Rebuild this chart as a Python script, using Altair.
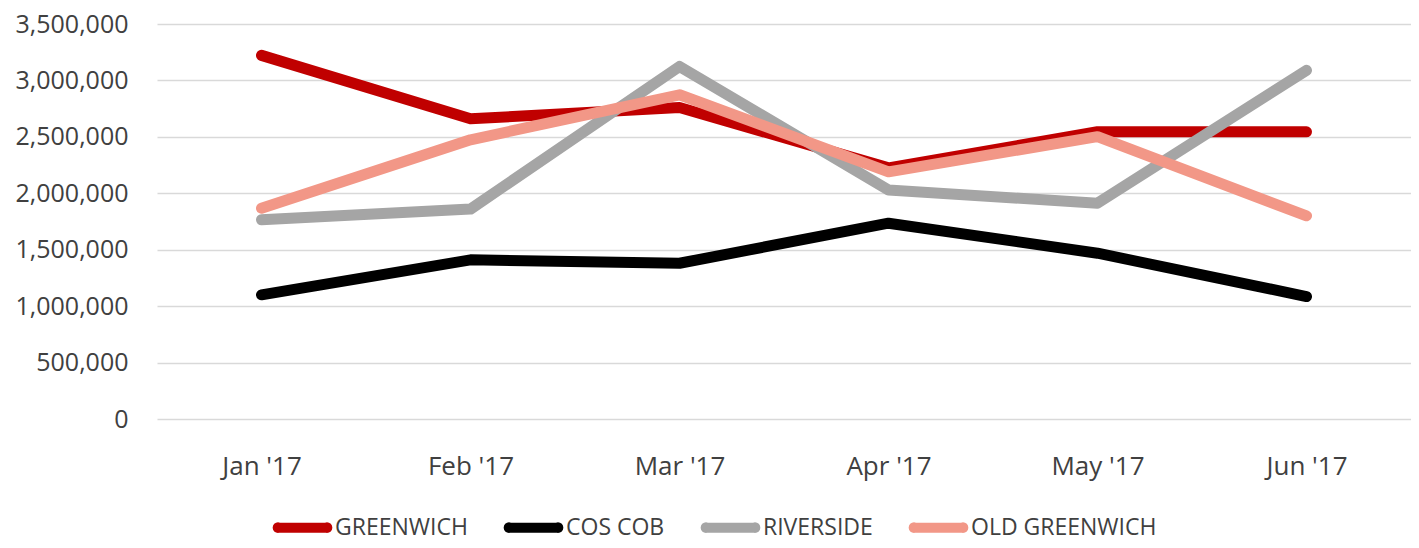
import math
import altair as alt
import pandas as pd

months = ["Jan '17", "Feb '17", "Mar '17", "Apr '17", "May '17", "Jun '17"]
series_names = ["GREENWICH", "COS COB", "RIVERSIDE", "OLD GREENWICH"]
greenwich = [3222000, 2660000, 2760000, 2225000, 2545000, 2545000]
cos_cob = [1100000, 1410000, 1380000, 1735000, 1469000, 1085000]
riverside = [1765000, 1860000, 3124000, 2030000, 1912000, 3089000]
old_greenwich = [1868000, 2474000, 2873000, 2190000, 2502000, 1800000]
colors = ["#C00000", "#000000", "#A5A5A5", "#F29787"]
y_ticks = [0, 500000, 1000000, 1500000, 2000000, 2500000, 3000000, 3500000]

rows = []
for name, vals in zip(series_names, [greenwich, cos_cob, riverside, old_greenwich]):
    for m, v in zip(months, vals):
        rows.append({"Month": m, "Area": name, "Value": v})
df = pd.DataFrame(rows)

FONT = "Open Sans"


def tiny_poly(cx, r=0.01, n=16):
    pts = []
    for i in range(n):
        a = 2 * math.pi * i / n
        pts.append(f"{cx + r * math.cos(a):.4f},{r * math.sin(a):.4f}")
    return "M" + "L".join(pts) + "Z"


# legend symbol: a line whose thick stroke around tiny polygons at each end gives rounded caps
ROUND_LINE = "M-1,0L1,0" + tiny_poly(-1) + tiny_poly(1)

chart = (
    alt.Chart(df)
    .mark_line(strokeWidth=11, strokeCap="round", strokeJoin="round")
    .encode(
        x=alt.X(
            "Month:N",
            sort=months,
            scale=alt.Scale(type="point", padding=0.5),
            axis=alt.Axis(
                title=None,
                labelAngle=0,
                ticks=False,
                domain=False,
                grid=False,
                labelPadding=34,
                labelFontSize=26,
                labelFont=FONT,
                labelColor="#404040",
            ),
        ),
        y=alt.Y(
            "Value:Q",
            scale=alt.Scale(domain=[0, 3500000], nice=False),
            axis=alt.Axis(
                title=None,
                values=y_ticks,
                format=",d",
                ticks=False,
                domain=False,
                grid=True,
                gridColor="#D9D9D9",
                gridWidth=1.5,
                labelPadding=29,
                labelFontSize=25,
                labelFont=FONT,
                labelColor="#404040",
            ),
        ),
        color=alt.Color(
            "Area:N",
            sort=series_names,
            scale=alt.Scale(domain=series_names, range=colors),
            legend=alt.Legend(
                title=None,
                orient="none",
                legendX=116,
                legendY=474,
                direction="horizontal",
                symbolType=ROUND_LINE,
                symbolSize=2401,
                symbolStrokeWidth=10,
                labelFont=FONT,
                labelFontSize=23,
                labelColor="#404040",
                labelOffset=3,
                columnPadding=20,
                labelLimit=400,
            ),
        ),
    )
    .properties(
        width=1254,
        height=395,
        padding={"left": 149, "top": 16, "right": 0, "bottom": 121},
        autosize=alt.AutoSizeParams(type="none"),
    )
    .configure_view(stroke=None)
)

chart.save("out.html", embed_options={"renderer": "svg", "actions": False})
